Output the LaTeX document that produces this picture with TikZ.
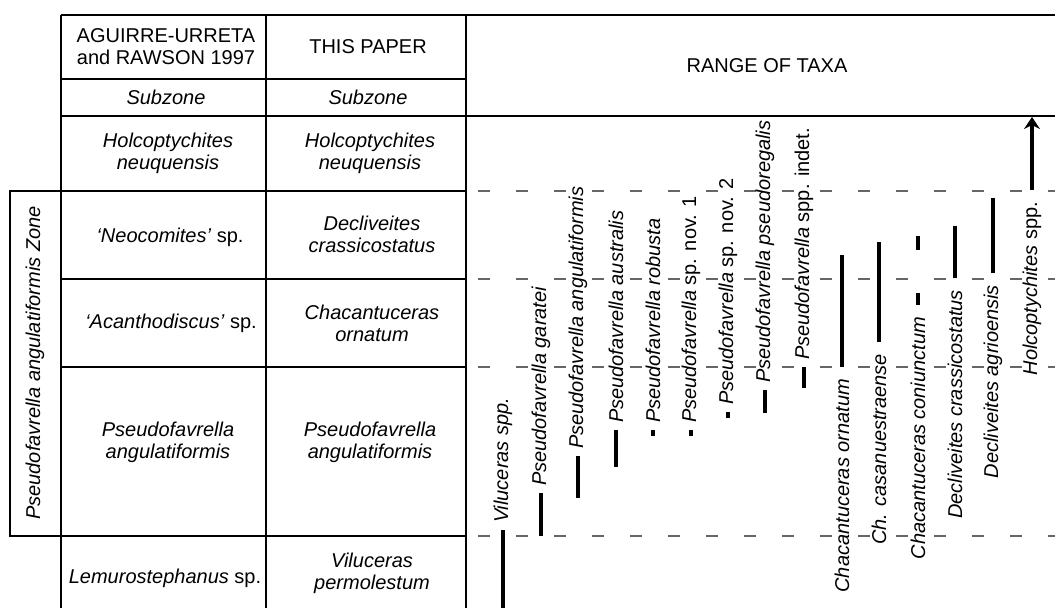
\documentclass[tikz,border=0pt]{standalone}
\usepackage{fontspec}
\setmainfont{Liberation Sans}
\usetikzlibrary{arrows.meta}

\tikzset{
  grid/.style={line width=1pt},
  rowline/.style={line width=0.7pt},
  zoneline/.style={black!60, line width=0.7pt, dash pattern=on 6pt off 13pt, dash phase=13pt},
  rangebar/.style={line width=2pt},
  cell/.style={font=\fontsize{10}{11}\selectfont, align=center, inner sep=0pt},
  taxon/.style={font=\fontsize{10}{11}\selectfont, rotate=90, inner sep=2.5pt},
  taxonbelow/.style={taxon, anchor=east, inner xsep=5pt},
}

\begin{document}
\begin{tikzpicture}[x=0.5pt,y=-0.5pt]
\useasboundingbox (0,0) rectangle (1055,608);
\draw[grid] (61,15) -- (1055,15);
\draw[grid] (61,79) -- (466,79);
\draw[grid] (61,116) -- (1055,116);
\draw[rowline] (61,191) -- (466,191);
\draw[rowline] (61,279) -- (466,279);
\draw[rowline] (61,367) -- (466,367);
\draw[rowline] (61,536) -- (466,536);
\draw[grid] (61,15) -- (61,608);
\draw[grid] (266,15) -- (266,608);
\draw[grid] (466,15) -- (466,608);
\draw[grid] (10,191) rectangle (61,536);
\draw[zoneline] (466,191) -- (1055,191);
\draw[zoneline] (466,279) -- (1055,279);
\draw[zoneline] (466,367) -- (1055,367);
\draw[zoneline] (466,536) -- (1055,536);

\node[cell] (hdold) at (166,47) {AGUIRRE-URRETA\\and RAWSON 1997};
\node[cell] (hdnew) at (368,47) {THIS PAPER};
\node[cell] (hdrange) at (767,66) {RANGE OF TAXA};
\node[cell] (subold) at (166,97) {\textit{Subzone}};
\node[cell] (subnew) at (368,97) {\textit{Subzone}};

\node[cell] (holold) at (168,153) {\textit{Holcoptychites}\\\textit{neuquensis}};
\node[cell] (holnew) at (370,153) {\textit{Holcoptychites}\\\textit{neuquensis}};
\node[cell] (neoold) at (170,237) {\textit{‘Neocomites’} sp.};
\node[cell] (decnew) at (372,234) {\textit{Decliveites}\\\textit{crassicostatus}};
\node[cell] (acaold) at (171,323) {\textit{‘Acanthodiscus’} sp.};
\node[cell] (chanew) at (372,323) {\textit{Chacantuceras}\\\textit{ornatum}};
\node[cell] (psfold) at (168,442) {\textit{Pseudofavrella}\\\textit{angulatiformis}};
\node[cell] (psfnew) at (370,442) {\textit{Pseudofavrella}\\\textit{angulatiformis}};
\node[cell] (lemold) at (165,578) {\textit{Lemurostephanus} sp.};
\node[cell] (vilnew) at (372,573) {\textit{Viluceras}\\\textit{permolestum}};
\node[cell, rotate=90] (zone) at (35,363) {\textit{Pseudofavrella angulatiformis Zone}};

\draw[rangebar] (503,608) -- (503,530) node[taxon, anchor=west] (vil) {\textit{Viluceras spp.}};
\draw[rangebar] (541,536) -- (541,493) node[taxon, anchor=west] (gar) {\textit{Pseudofavrella garatei}};
\draw[rangebar] (578,498) -- (578,456) node[taxon, anchor=west] (ang) {\textit{Pseudofavrella angulatiformis}};
\draw[rangebar] (616,467) -- (616,430) node[taxon, anchor=west] (aus) {\textit{Pseudofavrella australis}};
\draw[rangebar] (653,436) -- (653,430) node[taxon, anchor=west] (rob) {\textit{Pseudofavrella robusta}};
\draw[rangebar] (691,436) -- (691,430) node[taxon, anchor=west] (nova) {\textit{Pseudofavrella} sp. nov. 1};
\draw[rangebar] (728,418) -- (728,412) node[taxon, anchor=west] (novb) {\textit{Pseudofavrella} sp. nov. 2};
\draw[rangebar] (765,413) -- (765,390) node[taxon, anchor=west] (pse) {\textit{Pseudofavrella pseudoregalis}};
\draw[rangebar] (804,388) -- (804,367) node[taxon, anchor=west] (ind) {\textit{Pseudofavrella} spp. indet.};
\draw[rangebar] (842,255) -- (842,367) node[taxonbelow] (orn) {\textit{Chacantuceras ornatum}};
\draw[rangebar] (879,242) -- (879,342) node[taxonbelow] (cas) {\textit{Ch. casanuestraense}};
\draw[rangebar] (918,236) -- (918,250) (918,293) -- (918,305) node[taxonbelow] (con) {\textit{Chacantuceras coniunctum}};
\draw[rangebar] (955,226) -- (955,278) node[taxonbelow] (cra) {\textit{Decliveites crassicostatus}};
\draw[rangebar] (993,198) -- (993,273) node[taxonbelow] (agr) {\textit{Decliveites agrioensis}};
\draw[rangebar, -{Stealth[length=6pt,width=8pt]}] (1032,190) node[taxonbelow] (hol) {\textit{Holcoptychites} spp.} -- (1032,117);
\end{tikzpicture}
\end{document}
